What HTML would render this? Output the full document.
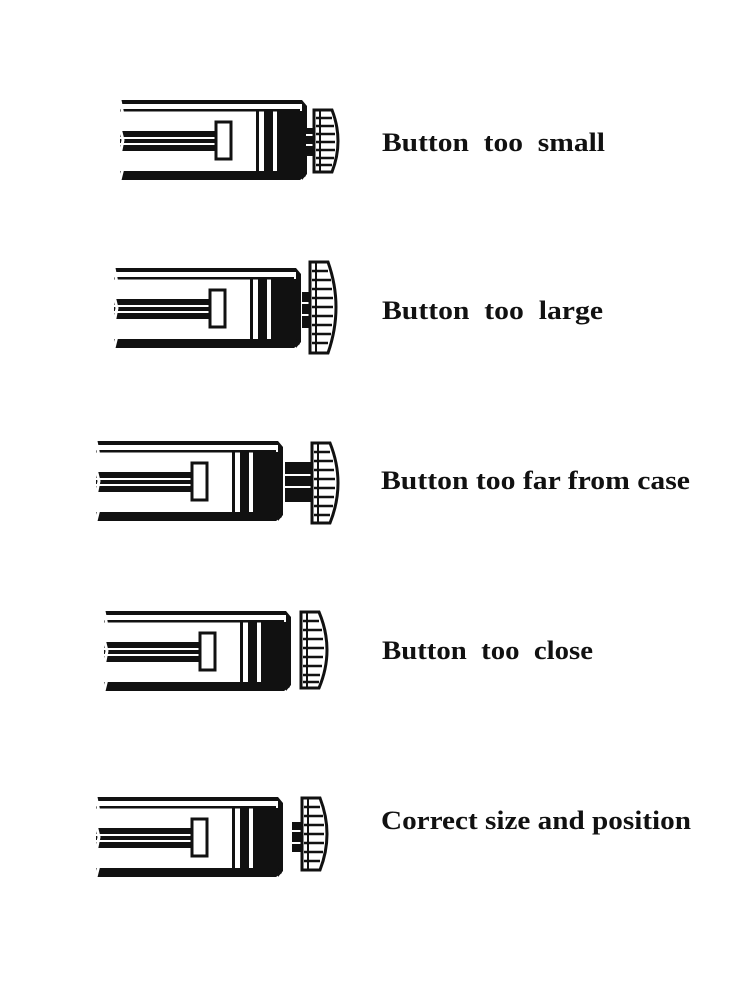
<!DOCTYPE html>
<html><head><meta charset="utf-8"><style>
html,body{margin:0;padding:0;background:#fff;}
svg{display:block}
text{font-family:"Liberation Serif",serif;font-weight:bold;font-size:26px;fill:#111}
</style></head><body>
<svg width="750" height="1000" viewBox="0 0 750 1000" xmlns="http://www.w3.org/2000/svg">
<defs>
<g id="case">
  <rect x="0" y="0" width="182" height="4" fill="#111"/>
  <rect x="0" y="9" width="180" height="2.5" fill="#111"/>
  <path d="M182 0 L187 6 L187 74 L182 80 Z" fill="#111"/>
  <path d="M0 71 L182 71 L186 76 L180 80 L0 80 Z" fill="#111"/>
  <rect x="0" y="31" width="96" height="20" fill="#111"/>
  <rect x="0" y="37" width="96" height="2" fill="#fff"/>
  <rect x="0" y="43" width="96" height="2" fill="#fff"/>
  <rect x="96" y="22" width="15" height="37" fill="#fff" stroke="#111" stroke-width="3"/>
  <rect x="136" y="11" width="3" height="60" fill="#111"/>
  <rect x="144" y="11" width="9" height="60" fill="#111"/>
  <rect x="157" y="11" width="25" height="60" fill="#111"/>
  <path d="M0 0 L3 15 L0 28 L3 40 L0 55 L3 68 L0 80" stroke="#fff" stroke-width="3" fill="none"/>
</g>
</defs>

<use href="#case" x="120" y="100"/>
<rect x="306" y="128" width="10" height="28" fill="#111"/>
<rect x="306" y="134" width="10" height="2" fill="#fff"/><rect x="306" y="144" width="10" height="2" fill="#fff"/>
<g transform="translate(314,110)">
  <path d="M0 0 H18 Q30 31 18 62 H0 Z" fill="#fff" stroke="#111" stroke-width="3"/>
  <path d="M2 8H18M2 16H20M2 24H21M2 32H21M2 40H21M2 48H20M2 55H18" stroke="#111" stroke-width="2.5"/>
  <line x1="6" y1="0" x2="6" y2="62" stroke="#111" stroke-width="2"/>
</g>
<text x="382" y="151" textLength="223" lengthAdjust="spacingAndGlyphs">Button&#160;&#160;too&#160;&#160;small</text>

<use href="#case" x="114" y="268"/>
<rect x="302" y="292" width="10" height="36" fill="#111"/>
<rect x="302" y="302" width="10" height="2" fill="#fff"/><rect x="302" y="314" width="10" height="2" fill="#fff"/>
<g transform="translate(310,262)">
  <path d="M0 0 H18 Q34 45 18 91 H0 Z" fill="#fff" stroke="#111" stroke-width="3"/>
  <path d="M2 9H18M2 18H21M2 27H22M2 36H23M2 45H23M2 54H23M2 63H22M2 72H21M2 81H18" stroke="#111" stroke-width="2.5"/>
  <line x1="6" y1="0" x2="6" y2="91" stroke="#111" stroke-width="2"/>
</g>
<text x="382" y="319" textLength="221" lengthAdjust="spacingAndGlyphs">Button&#160;&#160;too&#160;&#160;large</text>

<use href="#case" x="96" y="441"/>
<rect x="285" y="462" width="28" height="40" fill="#111"/>
<rect x="285" y="474" width="28" height="2" fill="#fff"/><rect x="285" y="486" width="28" height="2" fill="#fff"/>
<g transform="translate(312,443)">
  <path d="M0 0 H18 Q34 40 18 80 H0 Z" fill="#fff" stroke="#111" stroke-width="3"/>
  <path d="M2 9H18M2 18H21M2 27H22M2 36H23M2 45H23M2 54H22M2 63H21M2 72H18" stroke="#111" stroke-width="2.5"/>
  <line x1="6" y1="0" x2="6" y2="80" stroke="#111" stroke-width="2"/>
</g>
<text x="381" y="489" textLength="309" lengthAdjust="spacingAndGlyphs">Button too far from case</text>

<use href="#case" x="104" y="611"/>
<g transform="translate(301,612)">
  <path d="M0 0 H18 Q34 38 18 76 H0 Z" fill="#fff" stroke="#111" stroke-width="3"/>
  <path d="M2 9H18M2 18H21M2 27H22M2 36H23M2 45H22M2 54H21M2 63H19M2 70H18" stroke="#111" stroke-width="2.5"/>
  <line x1="6" y1="0" x2="6" y2="76" stroke="#111" stroke-width="2"/>
</g>
<text x="382" y="659" textLength="211" lengthAdjust="spacingAndGlyphs">Button&#160;&#160;too&#160;&#160;close</text>

<use href="#case" x="96" y="797"/>
<rect x="292" y="822" width="10" height="30" fill="#111"/>
<rect x="292" y="830" width="10" height="2" fill="#fff"/><rect x="292" y="842" width="10" height="2" fill="#fff"/>
<g transform="translate(302,798)">
  <path d="M0 0 H18 Q32 36 18 72 H0 Z" fill="#fff" stroke="#111" stroke-width="3"/>
  <path d="M2 9H18M2 18H21M2 27H22M2 36H22M2 45H22M2 54H21M2 63H18" stroke="#111" stroke-width="2.5"/>
  <line x1="6" y1="0" x2="6" y2="72" stroke="#111" stroke-width="2"/>
</g>
<text x="381" y="829" textLength="310" lengthAdjust="spacingAndGlyphs">Correct size and position</text>
</svg>
</body></html>
